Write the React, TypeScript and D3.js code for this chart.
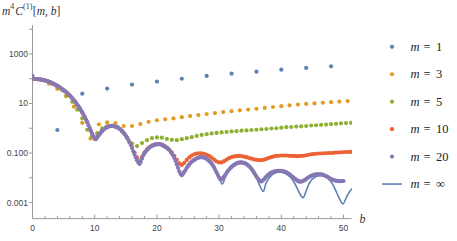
import * as d3 from "d3";
import { useEffect, useRef } from "react";

const svgWidth = 457
const svgHeight = 241
const bMax = 51.3

// b spacing of the sampled series (b = 4k/m)
const stepM1 = 4
const stepM3 = 4 / 3
const stepM5 = 0.8
const stepM10 = 0.4
const stepM20 = 0.2

const valuesM1 = [130, 0.85, 25, 40, 58, 77, 100, 130, 160, 193, 233, 272, 318]

const valuesM3 = [100, 91.2, 63, 38.9, 20.0, 7.41, 1.66, 0.389, 1.45, 1.74, 1.62, 1.23, 1.23, 1.48, 1.82,
  2.1, 2.3, 2.5, 2.8, 3.1, 3.4, 3.75, 4.1, 4.5, 4.9, 5.3, 5.7, 6.1, 6.6, 7.2, 7.8, 8.4, 9.0, 9.6,
  10.1, 10.7, 11.3, 11.9, 12.5]

const valuesM5 = [100, 96.6, 89.1, 77.6, 63.1, 47.9, 33.9, 20.9, 11.7, 5.62,
  2.51, 0.871, 0.479, 0.631, 1.00, 1.20, 1.23, 1.07, 0.741, 0.417,
  0.240, 0.191, 0.251, 0.331, 0.398, 0.427, 0.417, 0.372, 0.339, 0.331,
  0.363, 0.398, 0.437, 0.490, 0.537, 0.575, 0.617, 0.646, 0.676, 0.708,
  0.741, 0.759, 0.794, 0.813, 0.851, 0.871, 0.912, 0.933, 0.977, 1.00,
  1.05, 1.10, 1.12, 1.17, 1.20, 1.23, 1.29, 1.32, 1.38, 1.41,
  1.48, 1.51, 1.58, 1.62, 1.66]

const valuesM10 = [100, 97.7, 96.6, 93.3, 90.2, 85.1, 79.4, 72.4, 65.3, 58.2,
  51.3, 44.2, 37.6, 31.6, 26.3, 20.9, 16.2, 12.2, 8.91, 6.31,
  4.37, 2.82, 1.76, 1.00, 0.589, 0.380, 0.437, 0.589, 0.776, 0.955,
  1.10, 1.22, 1.24, 1.20, 1.11, 0.955, 0.767, 0.582, 0.417, 0.269,
  0.174, 0.105, 0.0661, 0.0468, 0.0676, 0.105, 0.141, 0.174, 0.200, 0.219,
  0.229, 0.229, 0.219, 0.195, 0.166, 0.135, 0.105, 0.0759, 0.0525, 0.0380,
  0.0331, 0.0398, 0.0525, 0.0661, 0.0794, 0.0891, 0.0955, 0.0977, 0.0977, 0.0933,
  0.0851, 0.0759, 0.0646, 0.0537, 0.0457, 0.0417, 0.0417, 0.0468, 0.0537, 0.0617,
  0.0676, 0.0724, 0.0741, 0.0759, 0.0741, 0.0708, 0.0676, 0.0631, 0.0589, 0.0550,
  0.0525, 0.0513, 0.0513, 0.0537, 0.0575, 0.0631, 0.0676, 0.0724, 0.0759, 0.0776,
  0.0794, 0.0794, 0.0794, 0.0776, 0.0759, 0.0759, 0.0741, 0.0741, 0.0759, 0.0776,
  0.0813, 0.0851, 0.0891, 0.0912, 0.0933, 0.0955, 0.0955, 0.0977, 0.0977, 0.100,
  0.100, 0.102, 0.105, 0.105, 0.107, 0.107, 0.110, 0.110, 0.112]

const valuesM20 = [100, 100, 97.7, 97.7, 96.6, 95.5, 93.3, 91.2, 90.2, 87.1,
  85.1, 82.2, 79.4, 75.9, 72.4, 69.2, 65.3, 61.7, 58.2, 55.0,
  51.3, 47.9, 44.2, 40.7, 37.6, 34.7, 31.6, 28.8, 26.3, 23.4,
  20.9, 18.4, 16.2, 14.1, 12.2, 10.5, 8.91, 7.59, 6.31, 5.25,
  4.37, 3.51, 2.82, 2.24, 1.76, 1.32, 1.00, 0.759, 0.589, 0.468,
  0.380, 0.363, 0.437, 0.501, 0.589, 0.676, 0.776, 0.871, 0.955, 1.05,
  1.10, 1.16, 1.22, 1.23, 1.24, 1.23, 1.20, 1.16, 1.11, 1.035,
  0.955, 0.861, 0.767, 0.676, 0.582, 0.501, 0.417, 0.339, 0.269, 0.209,
  0.158, 0.117, 0.0871, 0.0661, 0.0513, 0.0417, 0.0363, 0.0437, 0.0603, 0.0813,
  0.0977, 0.115, 0.132, 0.148, 0.166, 0.182, 0.195, 0.204, 0.214, 0.219,
  0.224, 0.226, 0.226, 0.224, 0.214, 0.200, 0.186, 0.174, 0.162, 0.148,
  0.132, 0.112, 0.0955, 0.0794, 0.0631, 0.0479, 0.0347, 0.0251, 0.0182, 0.0141,
  0.0126, 0.0145, 0.0174, 0.0204, 0.0251, 0.0295, 0.0347, 0.0398, 0.0447, 0.0490,
  0.0525, 0.0569, 0.0610, 0.0638, 0.0661, 0.0676, 0.0676, 0.0668, 0.0653, 0.0617,
  0.0575, 0.0525, 0.0479, 0.0427, 0.0372, 0.0316, 0.0257, 0.0204, 0.0162, 0.0129,
  0.0105, 0.00871, 0.00851, 0.00977, 0.0112, 0.0132, 0.0158, 0.0186, 0.0214, 0.0245,
  0.0275, 0.0302, 0.0331, 0.0355, 0.0380, 0.0398, 0.0407, 0.0417, 0.0417, 0.0407,
  0.0398, 0.0380, 0.0355, 0.0324, 0.0295, 0.0263, 0.0229, 0.0195, 0.0162, 0.0135,
  0.0112, 0.00955, 0.00813, 0.00724, 0.00708, 0.00759, 0.00851, 0.00977, 0.0112, 0.0126,
  0.0138, 0.0151, 0.0162, 0.0170, 0.0178, 0.0182, 0.0186, 0.0191, 0.0191, 0.0191,
  0.0191, 0.0186, 0.0180, 0.0174, 0.0164, 0.0155, 0.0143, 0.0132, 0.0120, 0.0110,
  0.0100, 0.00912, 0.00832, 0.00759, 0.00708, 0.00692, 0.00700, 0.00724, 0.00759, 0.00813,
  0.00891, 0.00977, 0.0105, 0.0112, 0.0120, 0.0126, 0.0130, 0.0133, 0.0136, 0.0138,
  0.0138, 0.0138, 0.0136, 0.0133, 0.0129, 0.0123, 0.0116, 0.0110, 0.0102, 0.00955,
  0.00891, 0.00851, 0.00813, 0.00776, 0.00759, 0.00741, 0.00733, 0.00733, 0.00733, 0.00741,
  0.00741]

// m = infinity curve, read at these b
const bInf = [0, 0.5, 1, 1.5, 2, 2.5, 3, 3.5, 4, 4.5, 5, 5.5, 6, 6.5, 7, 7.5, 8, 8.5, 9, 9.5, 10,
  10.1, 10.5, 11, 11.5, 12, 12.5, 13, 13.5, 14, 14.5, 15, 15.5, 16, 16.5, 17,
  17.2, 17.5, 18, 18.5, 19, 19.5, 20, 20.5, 21, 21.5, 22, 22.5, 23, 23.5, 24, 24.5, 25, 25.5,
  26, 26.5, 27, 27.5, 28, 28.5, 29, 29.5, 30, 30.5, 31, 31.5, 32, 32.5, 33, 33.5, 34, 34.5,
  35, 35.5, 36, 36.5, 37.1, 37.5, 38, 38.5, 39, 39.5, 40, 40.5, 41, 41.5, 42, 42.5, 43, 43.5,
  44, 44.5, 45, 45.5, 46, 46.5, 47, 47.5, 48, 48.5, 49, 49.5, 49.9, 50.5, 51, 51.5]
const valuesInf = [100, 97.7, 95.5, 91.2, 85.1, 77.6, 69.2, 60.3, 51.3, 42.7, 34.7, 27.5, 20.9, 15.1,
  10.5, 6.9, 4.4, 2.5, 1.32, 0.66, 0.38,
  0.355, 0.47, 0.68, 0.91, 1.10, 1.23, 1.23, 1.15, 0.95, 0.72, 0.50, 0.30, 0.158, 0.076, 0.042,
  0.035, 0.050, 0.095, 0.141, 0.182, 0.209, 0.224, 0.224, 0.200, 0.170, 0.132, 0.087, 0.048, 0.021,
  0.0126, 0.0174, 0.029, 0.042, 0.052, 0.063, 0.068, 0.066, 0.058, 0.046, 0.032, 0.0174, 0.0095,
  0.0056, 0.0105, 0.0178, 0.026, 0.032, 0.037, 0.039, 0.037, 0.032, 0.025, 0.0166, 0.0107, 0.0050,
  0.0028, 0.0056, 0.0095, 0.0132, 0.0155, 0.0166, 0.0166, 0.0155, 0.0132, 0.0102, 0.0069, 0.0040,
  0.0022, 0.00155, 0.0030, 0.0060, 0.0089, 0.0110, 0.0120, 0.0123, 0.0115, 0.0095, 0.0069, 0.0042,
  0.0022, 0.0012, 0.00087, 0.0017, 0.0028, 0.0038]

const legendLabels = ["1", "3", "5", "10", "20", "\u221e"]
const xTicks = [0, 10, 20, 30, 40, 50]
const xMinorTicks = [2, 4, 6, 8, 12, 14, 16, 18, 22, 24, 26, 28, 32, 34, 36, 38, 42, 44, 46, 48]
const yTicks = [0.001, 0.01, 0.1, 1, 10, 100, 1000, 10000]
const yLabelValues = [1000, 10, 0.1, 0.001]
const yLabelTexts = ["1000", "10", "0.100", "0.001"]

const colors = ["#5E81B5", "#E19C24", "#8FB032", "#EB6235", "#8778B3"]
const serif = "'Liberation Serif', 'DejaVu Serif', serif"
const sans = "'Liberation Sans', Arial, sans-serif"

export default function App() {
    const svgRef = useRef<SVGSVGElement>(null)

    useEffect(() => {
        const svg = d3.select(svgRef.current)
        svg.selectAll("*").remove()

        const x = d3.scaleLinear([0, bMax], [32.5, 351.6])
        const y = d3.scaleLog([2.24e-4, 1.48e4], [218.6, 25])
        const x0 = x(0)
        const yBottom = y.range()[0]

        svg.append("defs").append("clipPath").attr("id", "plotClip")
            .append("rect").attr("x", x0).attr("y", 20).attr("width", x(bMax) - x0 + 0.5).attr("height", 205)

        // axes
        const axisColor = "#9a9a9a"
        svg.append("line").attr("x1", x0).attr("x2", x(bMax)).attr("y1", yBottom).attr("y2", yBottom)
            .attr("stroke", axisColor).attr("stroke-width", 1)
        svg.append("line").attr("x1", x0).attr("x2", x0).attr("y1", y.range()[1]).attr("y2", yBottom)
            .attr("stroke", axisColor).attr("stroke-width", 1)

        svg.append("g").selectAll("line").data(xTicks).join("line")
            .attr("x1", d => x(d)).attr("x2", d => x(d))
            .attr("y1", yBottom).attr("y2", yBottom - 4)
            .attr("stroke", axisColor)
        svg.append("g").selectAll("line").data(xMinorTicks).join("line")
            .attr("x1", d => x(d)).attr("x2", d => x(d))
            .attr("y1", yBottom).attr("y2", yBottom - 2.5)
            .attr("stroke", axisColor)
        svg.append("g").selectAll("text").data(xTicks).join("text")
            .attr("x", d => x(d)).attr("y", yBottom + 12)
            .attr("text-anchor", "middle")
            .attr("font-family", sans).attr("font-size", 8.5).attr("fill", "#444")
            .text(d => d)

        svg.append("g").selectAll("line").data(yTicks).join("line")
            .attr("x1", x0 - 3.5).attr("x2", x0)
            .attr("y1", d => y(d)).attr("y2", d => y(d))
            .attr("stroke", axisColor)
        svg.append("g").selectAll("text").data(yLabelValues).join("text")
            .attr("x", x0 - 4.5).attr("y", d => y(d) + 3)
            .attr("text-anchor", "end")
            .attr("font-family", sans).attr("font-size", 8.5).attr("fill", "#444")
            .text((d, i) => yLabelTexts[i])

        // axis labels
        svg.append("text").attr("x", 359.5).attr("y", 223)
            .attr("font-family", serif).attr("font-style", "italic").attr("font-size", 12)
            .attr("fill", "#333").text("b")

        const yl = svg.append("text").attr("x", 2).attr("y", 14.5)
            .attr("font-family", serif).attr("font-size", 11.5).attr("fill", "#333")
        yl.append("tspan").attr("font-style", "italic").text("m")
        yl.append("tspan").attr("font-size", 8).attr("dy", -5.5).text("4")
        yl.append("tspan").attr("font-style", "italic").attr("dy", 5.5).attr("dx", 1).text("C")
        yl.append("tspan").attr("font-size", 8).attr("dy", -6).text("(1)")
        yl.append("tspan").attr("dy", 6).attr("dx", 0.5).text("[")
        yl.append("tspan").attr("font-style", "italic").text("m")
        yl.append("tspan").text(", ")
        yl.append("tspan").attr("font-style", "italic").text("b")
        yl.append("tspan").text("]")

        // m = infinity line
        const line = d3.line<number>()
            .x((d, i) => x(bInf[i]))
            .y(d => y(d))
            .curve(d3.curveCatmullRom.alpha(0.5))
        svg.append("path")
            .attr("clip-path", "url(#plotClip)")
            .attr("fill", "none")
            .attr("stroke", colors[0])
            .attr("stroke-width", 1.6)
            .attr("d", line(valuesInf))

        // sampled series
        const series = [
            { values: valuesM1, step: stepM1, color: colors[0] },
            { values: valuesM3, step: stepM3, color: colors[1] },
            { values: valuesM5, step: stepM5, color: colors[2] },
            { values: valuesM10, step: stepM10, color: colors[3] },
            { values: valuesM20, step: stepM20, color: colors[4] },
        ]
        series.forEach(s => {
            svg.append("g").attr("clip-path", "url(#plotClip)")
                .selectAll("circle").data(s.values).join("circle")
                .attr("cx", (d, i) => x(i * s.step))
                .attr("cy", d => y(d))
                .attr("r", 2.1)
                .attr("fill", s.color)
        })

        // legend
        const legendX = 392
        const legendY0 = 46.8
        const legendStep = 27.45
        legendLabels.forEach((label, i) => {
            const ly = legendY0 + i * legendStep
            if (i < 5) {
                svg.append("circle").attr("cx", legendX).attr("cy", ly).attr("r", 2.1).attr("fill", colors[i])
            } else {
                svg.append("line").attr("x1", legendX - 10).attr("x2", legendX + 10)
                    .attr("y1", ly).attr("y2", ly)
                    .attr("stroke", colors[0]).attr("stroke-width", 1.6)
            }
            const t = svg.append("text").attr("y", ly + 4)
                .attr("font-family", serif).attr("font-size", 12.5).attr("fill", "#222")
            t.append("tspan").attr("x", 410.5).attr("font-style", "italic").text("m")
            t.append("tspan").attr("x", 423.5).text("=")
            t.append("tspan").attr("x", 436).text(label)
        })
    }, [])

    return (
        <svg ref={svgRef} width={svgWidth} height={svgHeight}
            viewBox={`0 0 ${svgWidth} ${svgHeight}`}
            style={{ position: "absolute", left: 0, top: 0, background: "#fff" }}
            xmlns="http://www.w3.org/2000/svg" />
    )
}
